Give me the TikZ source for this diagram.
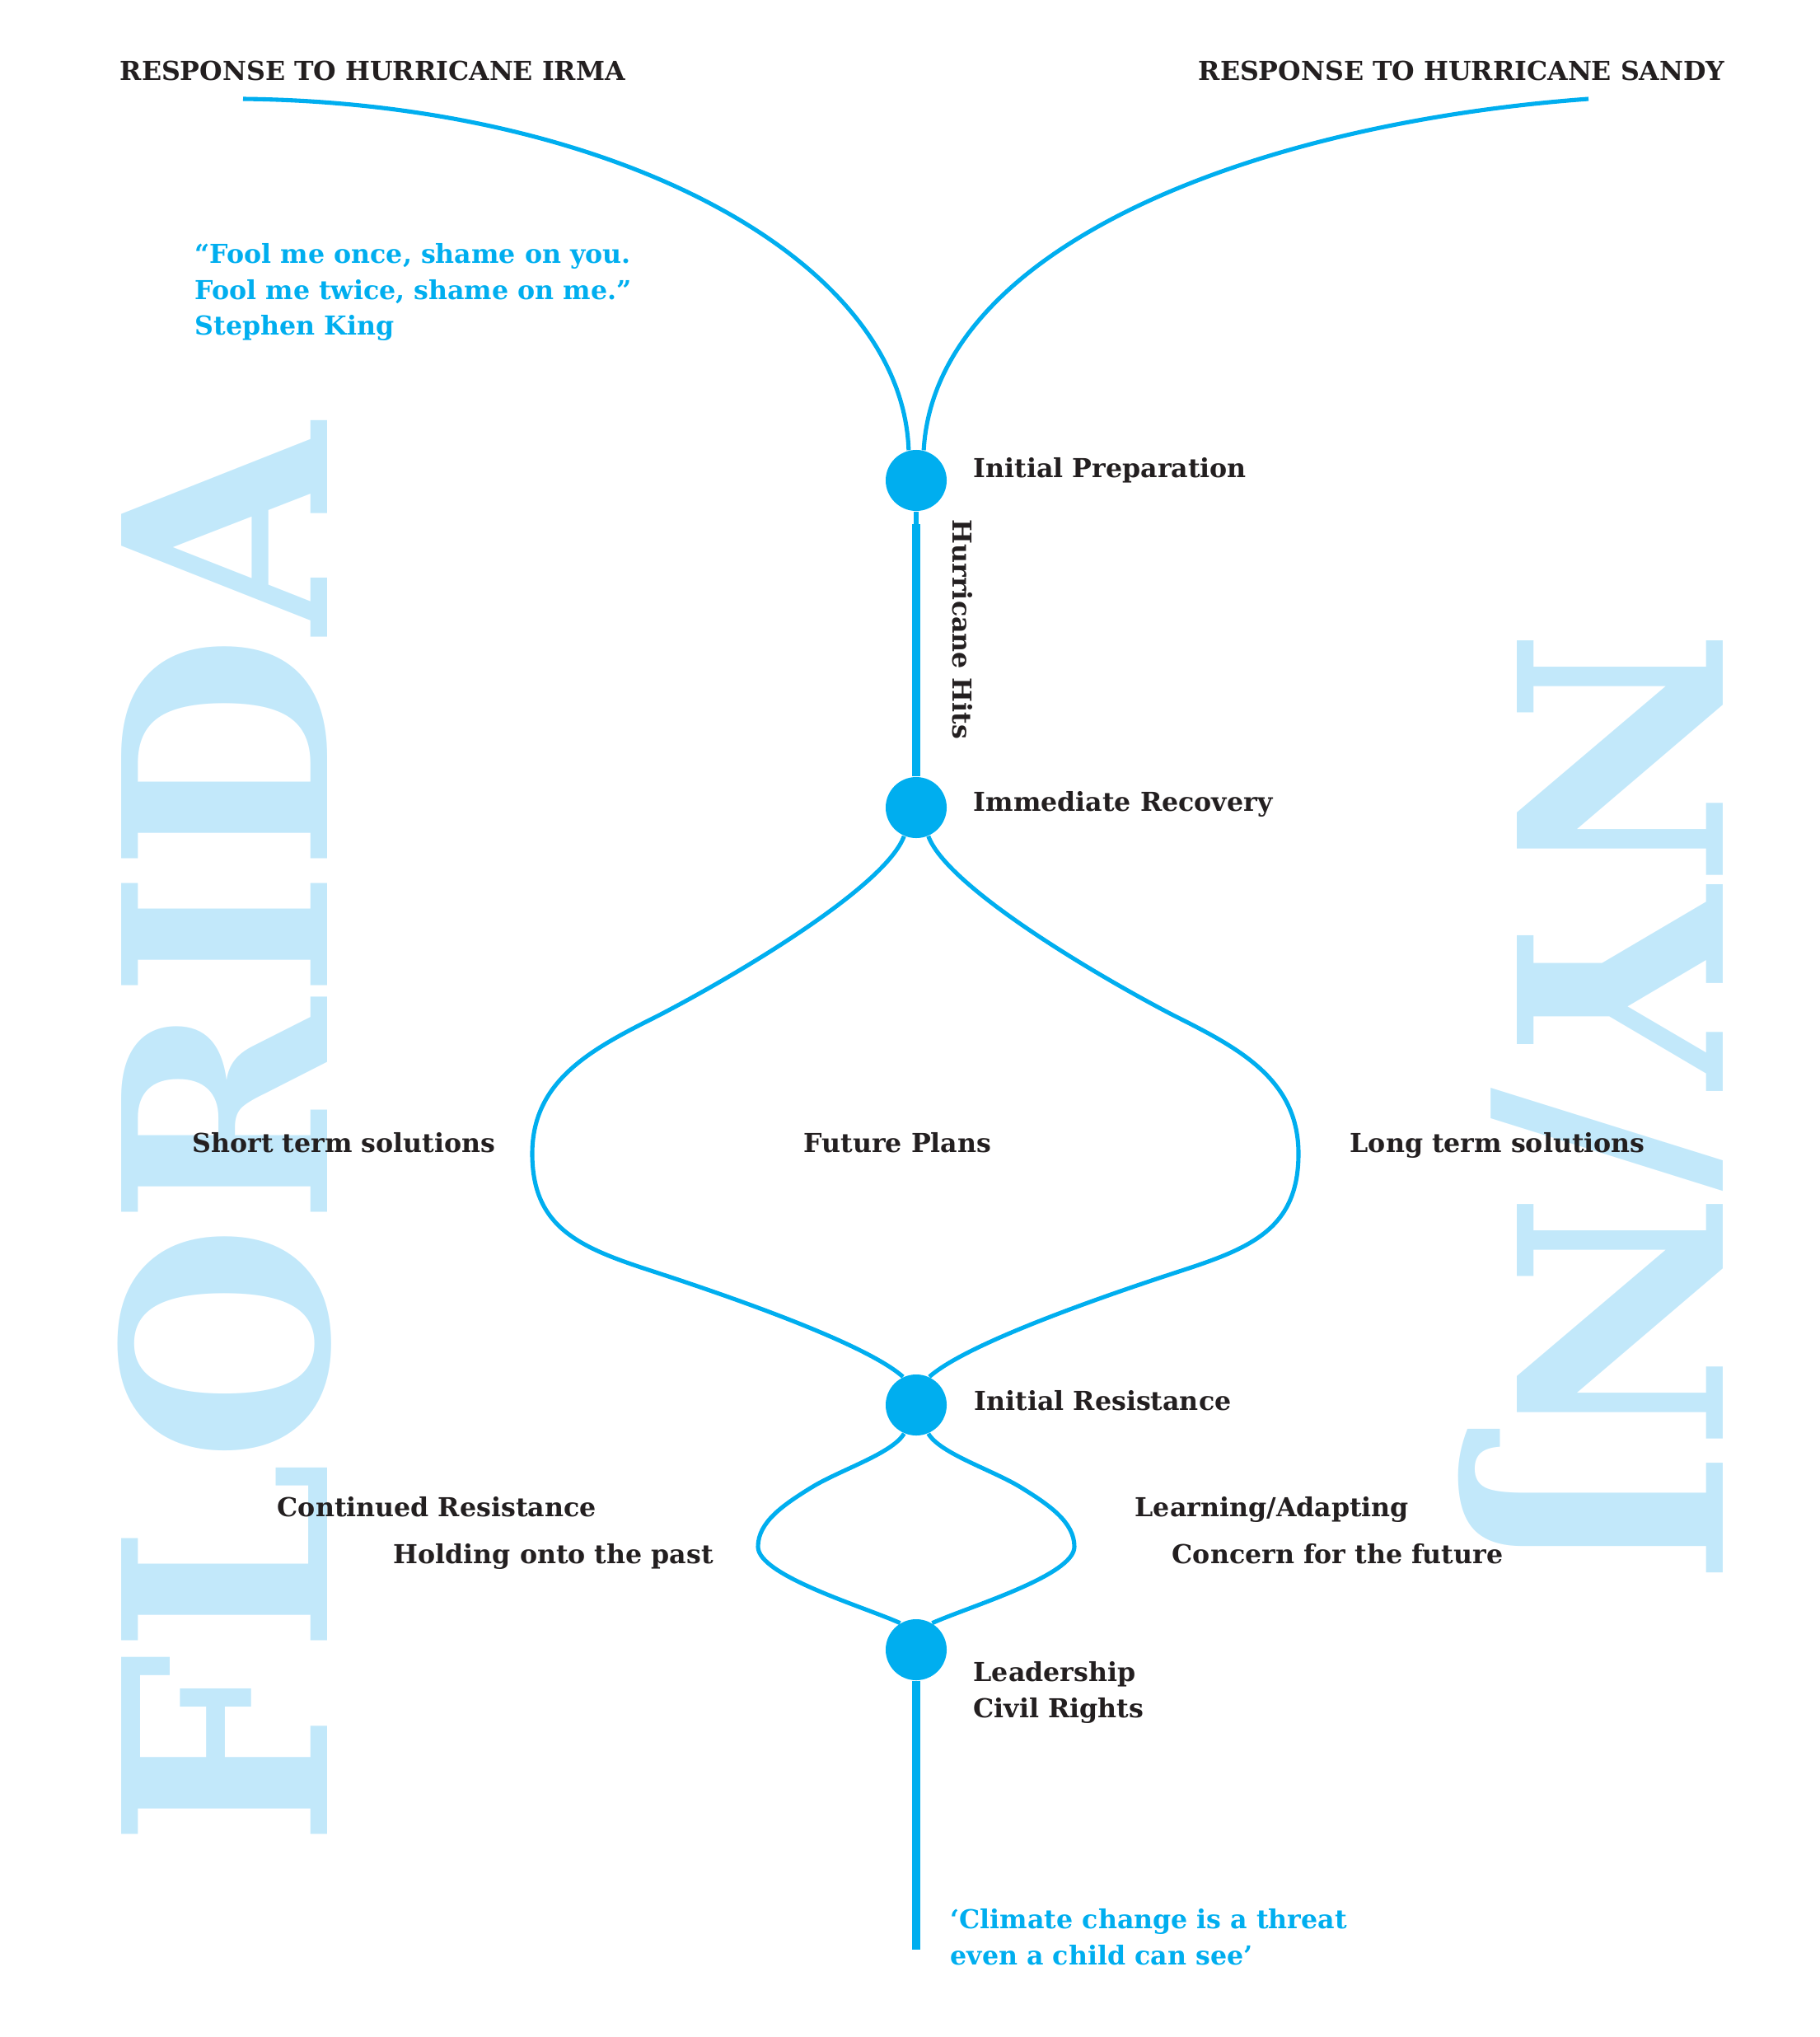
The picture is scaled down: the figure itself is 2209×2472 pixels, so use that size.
\documentclass[tikz,border=0pt]{standalone}
\usepackage{fontspec}
\setmainfont{DejaVu Serif}
\newfontfamily\squeezedface[FakeStretch=0.964]{DejaVu Serif}
\usetikzlibrary{positioning}
\definecolor{lineblue}{HTML}{00AEEF}
\definecolor{paleblue}{HTML}{C2E8FA}
\definecolor{ink}{HTML}{231F20}
\tikzset{
	stage/.style={circle, fill=lineblue, inner sep=0pt, minimum size=0.74cm},
	branch/.style={draw=lineblue, line width=1.45pt},
	trunk/.style={draw=lineblue, line width=2.85pt},
	caption/.style={text=ink, font=\bfseries\fontsize{9}{12.5}\selectfont, inner sep=0pt, anchor=base west},
	quotetext/.style={text=lineblue, font=\bfseries\fontsize{9}{12.3}\selectfont, inner sep=0pt, align=left, anchor=north west},
	bigword/.style={text=paleblue, font=\bfseries\fontsize{97.5}{100}\selectfont, inner sep=0pt, anchor=base west}
}

\begin{document}
\begin{tikzpicture}[x=0.01cm, y=-0.01cm]
	\useasboundingbox (0,0) rectangle (2209,2472);
	\node[bigword, rotate=90, font=\squeezedface\bfseries\fontsize{97.5}{100}\selectfont] (florida) at (397,2242) {FLORIDA};
	\node[bigword, rotate=-90] (nynj) at (1841,762) {NY/NJ};

	\node[stage] (prep) at (1112,583) {};
	\node[stage] (recov) at (1112,980) {};
	\node[stage] (resist) at (1112,1705) {};
	\node[stage] (lead) at (1112,2002) {};
	\coordinate (irma) at (295,120);
	\coordinate (sandy) at (1928,120);
	\coordinate (neck) at (1112,636);
	\coordinate (tail) at (1112,2366);

	\draw[branch] (irma) .. controls (741,125) and (1095,313) .. (prep.104);
	\draw[branch] (sandy) .. controls (1520,150) and (1135,300) .. (prep.76);
	\draw[branch] (prep.south) -- (neck);
	\draw[trunk] (neck) -- (recov.north);

	\draw[branch] (recov.247) .. controls (1075,1075) and (900,1180) .. (800,1232)
		.. controls (720,1272) and (646,1310) .. (646,1400)
		.. controls (646,1490) and (704,1514) .. (790,1542)
		.. controls (885,1573) and (1050,1630) .. (resist.115);
	\draw[branch] (recov.293) .. controls (1149,1075) and (1324,1180) .. (1424,1232)
		.. controls (1504,1272) and (1576,1310) .. (1576,1400)
		.. controls (1576,1490) and (1520,1514) .. (1434,1542)
		.. controls (1339,1573) and (1174,1630) .. (resist.65);

	\draw[branch] (resist.247) .. controls (1083,1764) and (1019,1784) .. (985,1805)
		.. controls (951,1826) and (920,1847) .. (920,1877)
		.. controls (920,1912) and (1049,1950) .. (lead.121);
	\draw[branch] (resist.293) .. controls (1141,1764) and (1205,1784) .. (1239,1805)
		.. controls (1273,1826) and (1304,1847) .. (1304,1877)
		.. controls (1304,1912) and (1175,1950) .. (lead.59);
	\draw[trunk] (lead.south) -- (tail);

	\node[caption] (irmanote) at (145,97) {RESPONSE TO HURRICANE IRMA};
	\node[caption] (sandynote) at (1454,97) {RESPONSE TO HURRICANE SANDY};
	\node[caption] (prepnote) at (1181,579) {Initial Preparation};
	\node[caption, rotate=-90] (hitsnote) at (1156,630) {Hurricane Hits};
	\node[caption] (recovnote) at (1181,984) {Immediate Recovery};
	\node[caption] (shortnote) at (233,1398) {Short term solutions};
	\node[caption] (futurenote) at (975,1398) {Future Plans};
	\node[caption] (longnote) at (1638,1398) {Long term solutions};
	\node[caption] (resistnote) at (1182,1711) {Initial Resistance};
	\node[caption] (contnote) at (336,1840) {Continued Resistance};
	\node[caption] (holdnote) at (477,1897) {Holding onto the past};
	\node[caption] (learnnote) at (1377,1840) {Learning/Adapting};
	\node[caption] (concernnote) at (1422,1897) {Concern for the future};
	\node[caption, align=left, anchor=north west] (leadnote) at (1181,2016) {Leadership\\Civil Rights};

	\node[quotetext] (foolquote) at (236,295) {“Fool me once, shame on you.\\Fool me twice, shame on me.”\\Stephen King};
	\node[quotetext] (childquote) at (1153,2316) {‘Climate change is a threat\\even a child can see’};
\end{tikzpicture}
\end{document}
